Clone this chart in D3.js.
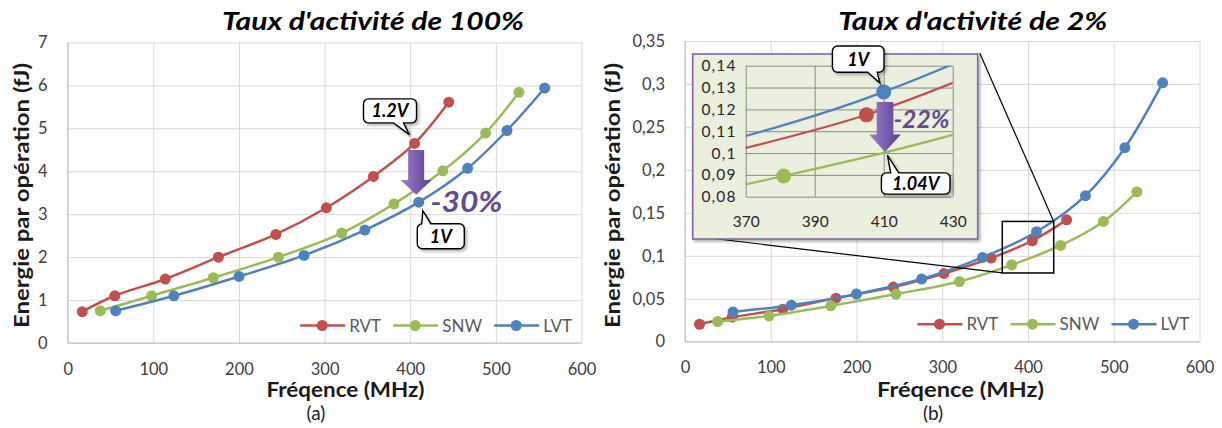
<!DOCTYPE html>
<html><head><meta charset="utf-8">
<script src="https://cdn.jsdelivr.net/npm/d3@7"></script>
<style>
body{margin:0;background:#fff;}
text{font-family:Lato,"Open Sans",sans-serif;}
</style>
</head><body>
<svg id="c" width="1222" height="428"></svg>
<script>
// ---------- DATA ----------
const seriesNames = ["RVT", "SNW", "LVT"];
const seriesColors = ["#c0504d", "#9bbb59", "#4f81bd"];

// frequencies (MHz), shared by both panels
const rvtFreq = [17, 55, 114, 176, 243, 302, 357, 405, 445];
const snwFreq = [38, 98, 170, 246, 320, 381, 438, 488, 527];
const lvtFreq = [56, 124, 200, 276, 347, 410, 467, 513, 557];

// energy per operation (fJ), activity 100%
const rvtA = [0.73, 1.10, 1.49, 2.00, 2.53, 3.15, 3.88, 4.65, 5.61];
const snwA = [0.75, 1.10, 1.52, 2.00, 2.56, 3.24, 4.01, 4.89, 5.84];
const lvtA = [0.75, 1.10, 1.55, 2.04, 2.63, 3.28, 4.07, 4.95, 5.94];

// energy per operation (fJ), activity 2%
const rvtB = [0.0203, 0.0285, 0.0378, 0.0507, 0.0636, 0.0794, 0.0974, 0.1175, 0.1418];
const snwB = [0.0234, 0.0300, 0.0417, 0.0554, 0.0700, 0.0895, 0.1120, 0.1400, 0.1745];
const lvtB = [0.0347, 0.0425, 0.0554, 0.0729, 0.0981, 0.1280, 0.1700, 0.2258, 0.3013];

// ticks
const xTicks = [0, 100, 200, 300, 400, 500, 600];
const xTickLabels = ["0", "100", "200", "300", "400", "500", "600"];
const yTicksA = [0, 1, 2, 3, 4, 5, 6, 7];
const yTickLabelsA = ["0", "1", "2", "3", "4", "5", "6", "7"];
const yTicksB = [0, 0.05, 0.1, 0.15, 0.2, 0.25, 0.3, 0.35];
const yTickLabelsB = ["0", "0,05", "0,1", "0,15", "0,2", "0,25", "0,3", "0,35"];
const insetXTicks = [370, 390, 410, 430];
const insetXTickLabels = ["370", "390", "410", "430"];
const insetYTicks = [0.08, 0.09, 0.10, 0.11, 0.12, 0.13, 0.14];
const insetYTickLabels = ["0,08", "0,09", "0,1", "0,11", "0,12", "0,13", "0,14"];

const titles = ["Taux d'activité de 100%", "Taux d'activité de 2%"];
const yLabel = "Energie par opération (fJ)";
const xLabel = "Fréqence (MHz)";
const panelLetters = ["(a)", "(b)"];

// ---------- DRAW ----------
const svg = d3.select("#c");
const defs = svg.append("defs");
const grad = defs.append("linearGradient").attr("id", "arrowGrad")
  .attr("x1", "0").attr("x2", "1").attr("y1", "0").attr("y2", "0");
grad.append("stop").attr("offset", "0%").attr("stop-color", "#9b80c8");
grad.append("stop").attr("offset", "55%").attr("stop-color", "#7a5cb0");
grad.append("stop").attr("offset", "100%").attr("stop-color", "#5a3e8a");
const sh = defs.append("filter").attr("id", "shadow")
  .attr("x", "-10%").attr("y", "-10%").attr("width", "130%").attr("height", "130%");
sh.append("feDropShadow").attr("dx", 2).attr("dy", 2).attr("stdDeviation", 1.8)
  .attr("flood-color", "#000").attr("flood-opacity", 0.3);

function zip(xs, ys) { return xs.map((v, i) => [v, ys[i]]); }

function drawGrid(g, x, y, xt, yt, xl, yl, gridColor, fs, xPad, yPad, labelColor, ySpacing) {
  const [x0, x1] = x.range(), [y0, y1] = y.range();
  const ax = g.append("g").attr("transform", `translate(0,${y0})`)
    .call(d3.axisBottom(x).tickValues(xt).tickFormat((d, i) => xl[i])
      .tickSize(-(y0 - y1)).tickPadding(xPad));
  const ay = g.append("g").attr("transform", `translate(${x0},0)`)
    .call(d3.axisLeft(y).tickValues(yt).tickFormat((d, i) => yl[i])
      .tickSize(-(x1 - x0)).tickPadding(yPad));
  [ax, ay].forEach(a => {
    a.select(".domain").remove();
    a.selectAll(".tick line").attr("stroke", gridColor).attr("stroke-width", 1);
    a.selectAll(".tick text").attr("fill", labelColor).style("font-size", fs + "px")
      .style("font-family", "Lato, 'Open Sans', sans-serif");
  });
  if (ySpacing) ay.selectAll(".tick text").style("letter-spacing", ySpacing + "px");
  return {ax, ay};
}

function arrowPath(cx, top, bw, hw, headTop, tip) {
  return `M${cx - bw / 2},${top}H${cx + bw / 2}V${headTop}H${cx + hw / 2}L${cx},${tip}L${cx - hw / 2},${headTop}H${cx - bw / 2}Z`;
}

function callout(g, o) {
  const {x, y, w, h} = o, r = 5;
  const right = `H${x + w - r}A${r},${r} 0 0 1 ${x + w},${y + r}V${y + h - r}A${r},${r} 0 0 1 ${x + w - r},${y + h}`;
  const left = `H${x + r}A${r},${r} 0 0 1 ${x},${y + h - r}V${y + r}A${r},${r} 0 0 1 ${x + r},${y}Z`;
  let p;
  if (o.edge === "bottom") {
    p = `M${x + r},${y}` + right + `H${o.b2}L${o.tx},${o.ty}L${o.b1},${y + h}` + left;
  } else {
    p = `M${x + r},${y}H${o.b1}L${o.tx},${o.ty}L${o.b2},${y}` + right + left;
  }
  g.append("path").attr("d", p).attr("fill", "#fff").attr("stroke", "#000")
    .attr("stroke-width", 1.4).attr("filter", "url(#shadow)");
  g.append("text").attr("x", x + w / 2).attr("y", y + h / 2).attr("dy", "0.36em")
    .attr("text-anchor", "middle").style("font-size", "18px").style("font-weight", "bold")
    .style("font-style", "italic").attr("fill", "#000").text(o.text);
}

const curve = d3.curveCatmullRom.alpha(0.5);

function drawPanel(p) {
  const g = svg.append("g");
  const {x, y} = p;
  drawGrid(g, x, y, xTicks, yTicksA === p.yt ? yTicksA : p.yt, xTickLabels, p.yt === yTicksA ? yTickLabelsA : p.ytl,
    "#d9d9d9", 16.5, 20, 20, "#404040");
  const [x0, x1] = x.range(), [y0] = y.range();
  // axis lines
  g.append("line").attr("x1", x0).attr("x2", x1).attr("y1", y0).attr("y2", y0).attr("stroke", "#bfbfbf");
  g.append("line").attr("x1", x0).attr("x2", x0).attr("y1", y.range()[1]).attr("y2", y0).attr("stroke", "#bfbfbf");

  const line = d3.line().x(d => x(d[0])).y(d => y(d[1])).curve(curve);
  const lines = g.append("g");
  p.series.forEach((s, i) => {
    lines.append("path").attr("d", line(s)).attr("fill", "none")
      .attr("stroke", seriesColors[i]).attr("stroke-width", 2.5);
    lines.selectAll(null).data(s).enter().append("circle")
      .attr("cx", d => x(d[0])).attr("cy", d => y(d[1])).attr("r", 5.5)
      .attr("fill", seriesColors[i]);
  });

  // legend
  const lx = x0 + 232.5, ly = y0 - 17.5;
  const offs = [0, 93, 194];
  seriesNames.forEach((n, i) => {
    const gx = lx + offs[i];
    g.append("line").attr("x1", gx).attr("x2", gx + 45).attr("y1", ly).attr("y2", ly)
      .attr("stroke", seriesColors[i]).attr("stroke-width", 2.5);
    g.append("circle").attr("cx", gx + 22).attr("cy", ly).attr("r", 5.5).attr("fill", seriesColors[i]);
    g.append("text").attr("x", gx + 49).attr("y", ly).attr("dy", "0.36em")
      .style("font-size", "17px").attr("fill", "#595959").text(n);
  });

  // titles and labels
  g.append("text").attr("x", p.titleX).attr("y", 29.5).attr("text-anchor", "middle")
    .style("font-size", "25px").style("font-weight", "bold").style("font-style", "italic")
    .attr("textLength", p.titleW).attr("lengthAdjust", "spacingAndGlyphs")
    .attr("fill", "#000").text(p.title);
  g.append("text").attr("transform", `translate(${p.ylx},195.5) rotate(-90)`)
    .attr("text-anchor", "middle").style("font-size", "20px").style("font-weight", "bold")
    .attr("textLength", 265).attr("lengthAdjust", "spacingAndGlyphs")
    .attr("fill", "#1a1a1a").text(yLabel);
  g.append("text").attr("x", p.xlx).attr("y", 397).attr("text-anchor", "middle")
    .style("font-size", "20px").style("font-weight", "bold")
    .attr("textLength", p.xlw).attr("lengthAdjust", "spacingAndGlyphs")
    .attr("fill", "#1a1a1a").text(xLabel);
  g.append("text").attr("x", p.letterX).attr("y", 420).attr("text-anchor", "middle")
    .style("font-size", "19px").attr("fill", "#222").text(p.letter);
  return g;
}

// ----- Panel A -----
const xA = d3.scaleLinear().domain([0, 600]).range([67.7, 581.5]);
const yA = d3.scaleLinear().domain([0, 7]).range([343, 42.5]);
const seriesA = [zip(rvtFreq, rvtA), zip(snwFreq, snwA), zip(lvtFreq, lvtA)];
const gA = drawPanel({x: xA, y: yA, yt: yTicksA, ytl: yTickLabelsA, series: seriesA,
  title: titles[0], titleX: 373, titleW: 302, ylx: 29, xlx: 345.5, xlw: 158, letter: panelLetters[0], letterX: 316});

// annotations A
{
  const rp = [xA(rvtFreq[7]), yA(rvtA[7])];
  const bp = [xA(lvtFreq[5]), yA(lvtA[5])];
  const cx = (rp[0] + bp[0]) / 2 - 0.5;
  gA.append("path").attr("d", arrowPath(cx, rp[1] + 6.5, 16, 31, rp[1] + 36.5, bp[1] - 7.5))
    .attr("fill", "url(#arrowGrad)");
  gA.append("text").attr("x", 430.5).attr("y", 212).style("font-size", "29px")
    .style("font-weight", "bold").style("font-style", "italic")
    .attr("textLength", 72).attr("lengthAdjust", "spacingAndGlyphs")
    .attr("fill", "#654a90").text("-30%");
  callout(gA, {x: rp[0] - 51, y: rp[1] - 44.5, w: 53, h: 24, edge: "bottom",
    b1: rp[0] - 21, b2: rp[0] - 11, tx: rp[0] - 5, ty: rp[1] - 8.5, text: "1.2V"});
  callout(gA, {x: bp[0] - 1.5, y: bp[1] + 21.5, w: 47, h: 25, edge: "top",
    b1: bp[0] + 3, b2: bp[0] + 12, tx: bp[0] + 4, ty: bp[1] + 8.5, text: "1V"});
}

// ----- Panel B -----
const xB = d3.scaleLinear().domain([0, 600]).range([685, 1199.5]);
const yB = d3.scaleLinear().domain([0, 0.35]).range([341.7, 41]);
const seriesB = [zip(rvtFreq, rvtB), zip(snwFreq, snwB), zip(lvtFreq, lvtB)];
const gB = drawPanel({x: xB, y: yB, yt: yTicksB, ytl: yTickLabelsB, series: seriesB,
  title: titles[1], titleX: 972.8, titleW: 269, ylx: 619.5, xlx: 960.5, xlw: 167, letter: panelLetters[1], letterX: 933});

// zoom window on panel B
const xI = d3.scaleLinear().domain([370, 430]).range([745.7, 952.7]);
const yI = d3.scaleLinear().domain([0.08, 0.14]).range([196.7, 65.7]);
const insetBox = {x: 692.7, y: 54, w: 285, h: 185};
{
  const bx0 = xB(xI.domain()[0]), bx1 = xB(xI.domain()[1]);
  const by0 = yB(yI.domain()[0]), by1 = yB(yI.domain()[1]);
  gB.append("rect").attr("x", bx0).attr("y", by1).attr("width", bx1 - bx0).attr("height", by0 - by1)
    .attr("fill", "none").attr("stroke", "#000").attr("stroke-width", 1.5);
  gB.append("line").attr("x1", insetBox.x + insetBox.w + 2).attr("y1", insetBox.y - 1)
    .attr("x2", bx1).attr("y2", by1).attr("stroke", "#000").attr("stroke-width", 1.2);
  gB.append("line").attr("x1", insetBox.x).attr("y1", insetBox.y + insetBox.h - 3)
    .attr("x2", bx0).attr("y2", by0).attr("stroke", "#000").attr("stroke-width", 1.2);

  const gi = svg.append("g");
  gi.append("rect").attr("x", insetBox.x).attr("y", insetBox.y).attr("width", insetBox.w).attr("height", insetBox.h)
    .attr("fill", "#ebf0de").attr("stroke", "#8064a2").attr("stroke-width", 1.6).attr("filter", "url(#shadow)");
  const gr = drawGrid(gi, xI, yI, insetXTicks, insetYTicks, insetXTickLabels, insetYTickLabels,
    "#8a8a8a", 15.5, 19, 9, "#262626", 1.2);
  defs.append("clipPath").attr("id", "insetClip").append("rect")
    .attr("x", xI.range()[0]).attr("y", yI.range()[1])
    .attr("width", xI.range()[1] - xI.range()[0]).attr("height", yI.range()[0] - yI.range()[1]);
  const lineI = d3.line().x(d => xI(d[0])).y(d => yI(d[1])).curve(curve);
  const gl = gi.append("g").attr("clip-path", "url(#insetClip)");
  seriesB.forEach((s, i) => {
    gl.append("path").attr("d", lineI(s)).attr("fill", "none")
      .attr("stroke", seriesColors[i]).attr("stroke-width", 2.2);
  });
  seriesB.forEach((s, i) => {
    gi.selectAll(null).data(s.filter(d => d[0] >= 370 && d[0] <= 430)).enter().append("circle")
      .attr("cx", d => xI(d[0])).attr("cy", d => yI(d[1])).attr("r", 7.5).attr("fill", seriesColors[i]);
  });
  // annotations in inset
  const bp = [xI(lvtFreq[5]), yI(lvtB[5])];
  const gp = [xI(410), yI(0.0998)];
  gi.append("path").attr("d", arrowPath(bp[0] + 1.3, bp[1] + 10, 16.7, 31.7, bp[1] + 42.5, gp[1] - 1.5))
    .attr("fill", "url(#arrowGrad)");
  gi.append("text").attr("x", 893.5).attr("y", 128).style("font-size", "24px")
    .style("font-weight", "bold").style("font-style", "italic")
    .attr("textLength", 56).attr("lengthAdjust", "spacingAndGlyphs")
    .attr("fill", "#654a90").text("-22%");
  callout(gi, {x: bp[0] - 51.3, y: bp[1] - 45.9, w: 51.6, h: 26.3, edge: "bottom",
    b1: bp[0] - 16, b2: bp[0] - 6.5, tx: bp[0] - 3.7, ty: bp[1] - 8.6, text: "1V"});
  callout(gi, {x: gp[0] - 2.3, y: gp[1] + 19.4, w: 68.6, h: 21.3, edge: "top",
    b1: gp[0] + 7, b2: gp[0] + 15, tx: gp[0] + 3.7, ty: gp[1] + 1.7, text: "1.04V"});
}
</script>
</body></html>
